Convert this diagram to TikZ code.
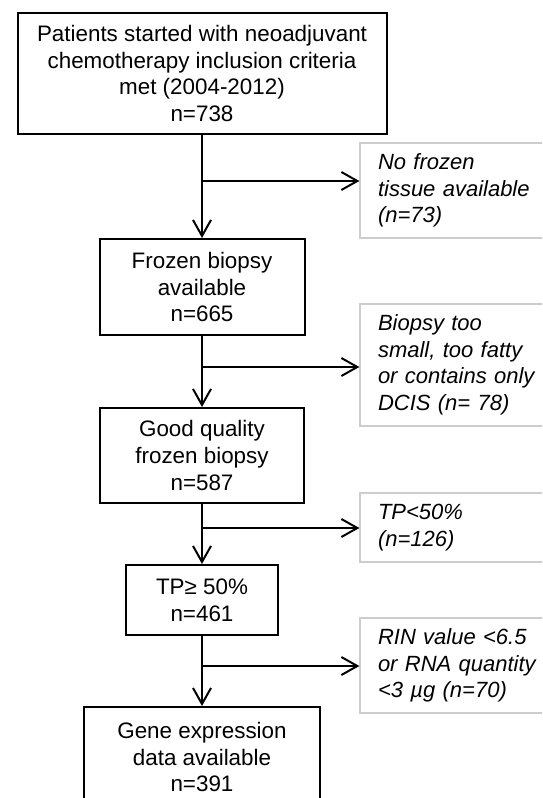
\documentclass[tikz,border=0pt]{standalone}
\usepackage{fontspec}
\setmainfont{Liberation Sans}
\usetikzlibrary{arrows.meta}
\definecolor{sidegray}{RGB}{205,205,205}

\begin{document}
\begin{tikzpicture}[x=0.5pt, y=-0.5pt]

    \useasboundingbox (0,0) rectangle (542,798);
    \clip (0,0) rectangle (542,798);

    \tikzset{mainbox/.style={draw, line width=1pt, inner sep=0pt, align=center,
                             font=\fontsize{11.2}{13.3}\selectfont},
             sidebox/.style={draw=sidegray, line width=0.6pt, minimum width=100pt,
                             text width=82pt, inner xsep=9pt, inner ysep=0pt, align=left,
                             font=\fontsize{11}{13.3}\selectfont\itshape},
             flow/.style={line width=1pt, -{Straight Barb[length=8pt,width=9pt,line width=1pt]}}}

    % main column
    \node[mainbox, minimum width=184.5pt, minimum height=60.5pt] (n1) at (202, 73.5)
        {Patients started with neoadjuvant\\chemotherapy inclusion criteria\\met (2004-2012)\\n=738};
    \node[mainbox, minimum width=102.5pt, minimum height=48pt] (n2) at (202, 287)
        {Frozen biopsy\\available\\n=665};
    \node[mainbox, minimum width=102pt, minimum height=47.5pt] (n3) at (202, 455.5)
        {Good quality\\frozen biopsy\\n=587};
    \node[mainbox, minimum width=76pt, minimum height=35pt] (n4) at (202, 600)
        {TP≥ 50\%\\n=461};
    \node[mainbox, minimum width=118pt, minimum height=50pt] (n5) at (202, 757)
        {Gene expression\\data available\\n=391};

    % excluded
    \node[sidebox, minimum height=47.5pt] (s1) at (460, 190.5)
        {No frozen\\tissue available\\(n=73)};
    \node[sidebox, minimum height=61pt] (s2) at (460, 365)
        {Biopsy too\\small, too fatty\\or contains only\\DCIS (n= 78)};
    \node[sidebox, minimum height=34.5pt] (s3) at (460, 527.5)
        {TP<50\%\\(n=126)};
    \node[sidebox, minimum height=47.5pt] (s4) at (460, 665.5)
        {RIN value <6.5\\or RNA quantity\\<3 µg (n=70)};

    \coordinate (b1) at (202, 181);
    \coordinate (b2) at (202, 367);
    \coordinate (b3) at (202, 528);
    \coordinate (b4) at (202, 666);

    \draw[flow] (n1) -- (n2);
    \draw[flow] (n2) -- (n3);
    \draw[flow] (n3) -- (n4);
    \draw[flow] (n4) -- (n5);

    \draw[flow] (b1) -- (b1 -| s1.west);
    \draw[flow] (b2) -- (b2 -| s2.west);
    \draw[flow] (b3) -- (b3 -| s3.west);
    \draw[flow] (b4) -- (b4 -| s4.west);
\end{tikzpicture}
\end{document}
